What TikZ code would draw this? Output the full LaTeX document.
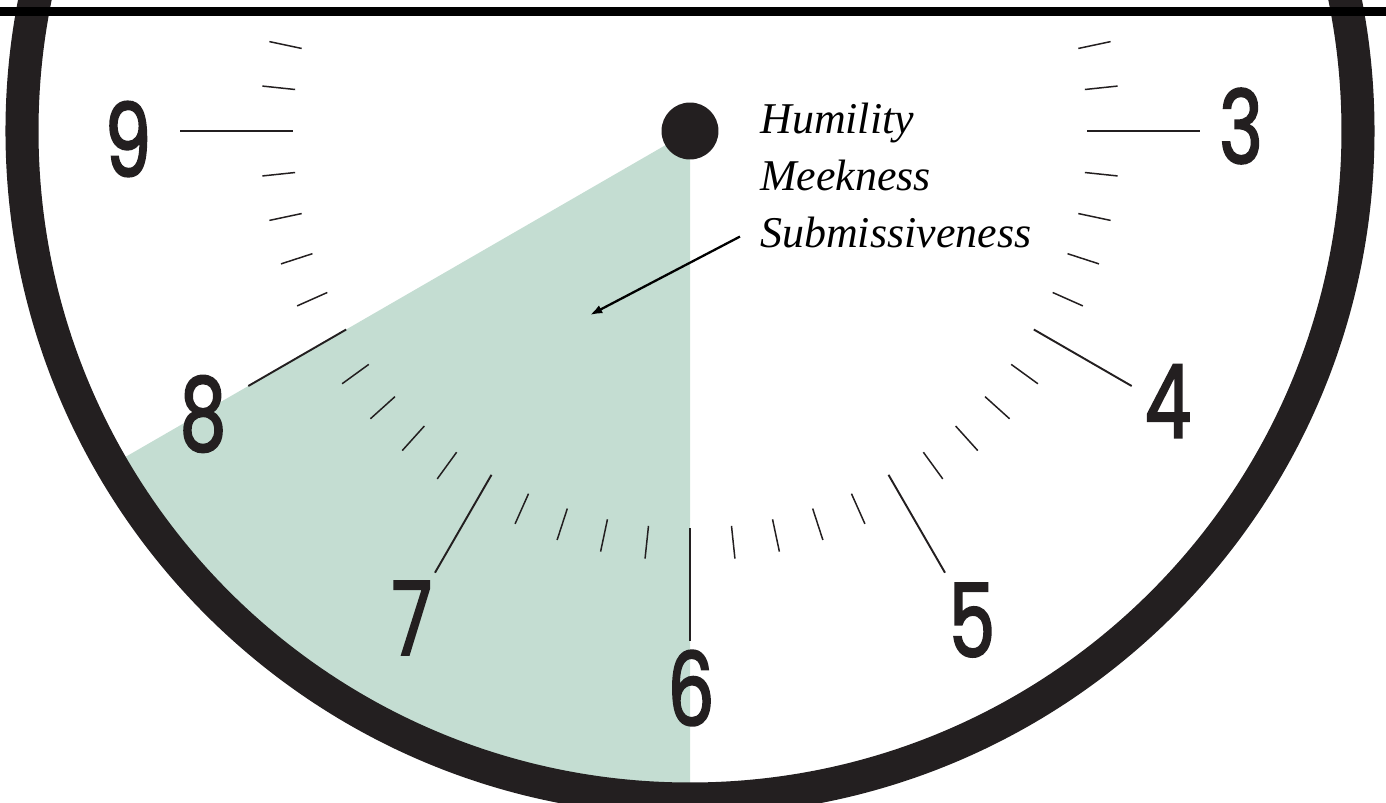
\documentclass[tikz,border=0pt]{standalone}
\usepackage{fontspec}
\usepackage{tikz}
\usetikzlibrary{arrows.meta,calc}
\newfontfamily\dialfont{Poppins}[FakeStretch=0.72, FakeBold=2]
\newfontfamily\labelfont{Liberation Serif}
\definecolor{ink}{HTML}{231F20}
\definecolor{sage}{HTML}{C4DDD2}

\begin{document}
\begin{tikzpicture}[
  x=0.02cm, y=0.02cm,
  wedge/.style={fill=sage},
  rim/.style={draw=ink, line width=18.8pt},
  hourtick/.style={draw=ink, line width=1.1pt},
  minutetick/.style={draw=ink, line width=0.85pt},
  numeral/.style={text=ink, inner sep=0pt, font=\dialfont\fontsize{58}{60}\selectfont},
  hub/.style={circle, fill=ink, minimum size=1.14cm, inner sep=0pt},
  virtues/.style={anchor=north west, align=left, inner sep=0pt, font=\labelfont\itshape\fontsize{25}{32.4}\selectfont},
  pointer/.style={-{Latex[length=7pt,width=5pt]}, draw=black, line width=1.3pt}
]
\clip (-690,131) rectangle (696,-671);

% shaded sector from 8 to 6
\fill[wedge] (0,0) -- (210:668) arc[start angle=210, end angle=270, radius=668] -- cycle;

% minute and hour ticks
\foreach \a in {168,174,...,372}{
  \pgfmathtruncatemacro\rest{mod(\a,30)}
  \ifnum\rest=0 \else \draw[minutetick] (\a:397) -- (\a:430); \fi
}
\foreach \a in {180,210,...,360}
  \draw[hourtick] (\a:397) -- (\a:510);

\node[numeral] (n9) at (-562,-8)   {9};
\node[numeral] (n8) at (-487,-283) {8};
\node[numeral] (n7) at (-278,-487) {7};
\node[numeral] (n6) at (1,-557)    {6};
\node[numeral] (n5) at (282,-489)  {5};
\node[numeral] (n4) at (478,-270)  {4};
\node[numeral] (n3) at (551,5)     {3};

% case and top edge
\draw[rim] (0,0) circle[radius=668];
\fill[black] (-690,124) rectangle (696,115);

\node[hub] (hub) at (0,0) {};

\node[virtues] (virtues) at (70,28) {Humility\\Meekness\\Submissiveness};
\coordinate (tip) at (-100,-184);
\draw[pointer] ($(virtues.south west)+(-20,12)$) -- (tip);
\end{tikzpicture}
\end{document}
